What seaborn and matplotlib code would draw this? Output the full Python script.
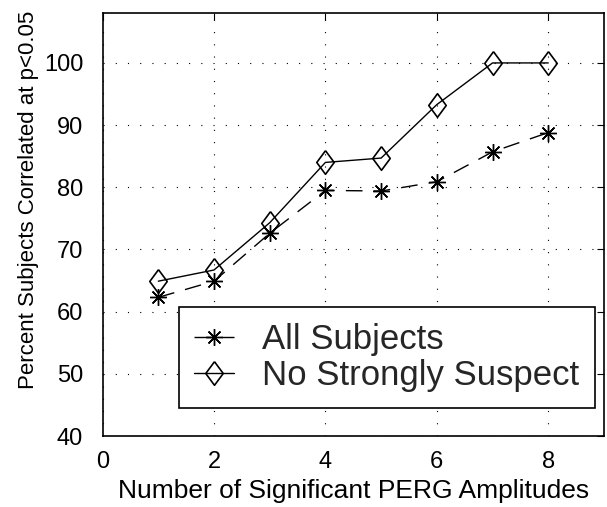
import matplotlib
matplotlib.use("Agg")
import matplotlib.pyplot as plt
import seaborn as sns
import pandas as pd
import numpy as np

n_amplitudes = [1, 2, 3, 4, 5, 6, 7, 8]
all_subjects = [62.3, 64.9, 72.6, 79.5, 79.4, 80.9, 85.7, 88.8]
no_strongly_suspect = [64.9, 66.7, 74.3, 84.0, 84.7, 93.3, 100.0, 100.0]
series_names = ["All Subjects", "No Strongly Suspect"]
x_ticks = [0, 2, 4, 6, 8]
y_ticks = [40, 50, 60, 70, 80, 90, 100]

sns.set_theme(style="white")
plt.rcParams["font.family"] = ["Liberation Sans", "DejaVu Sans"]

df = pd.DataFrame({
    "x": n_amplitudes * 2,
    "y": all_subjects + no_strongly_suspect,
    "series": [series_names[0]] * len(all_subjects) + [series_names[1]] * len(no_strongly_suspect),
})

fig = plt.figure(figsize=(6.07, 5.07), dpi=100)
ax = fig.add_axes([0.169, 0.140, 0.826, 0.834])

diamond = [(0, 1), (0.74, 0), (0, -1), (-0.74, 0), (0, 1)]

sns.lineplot(data=df[df.series == series_names[0]], x="x", y="y", ax=ax,
             color="black", lw=1.0, marker=(8, 2, 0), markersize=12,
             markeredgewidth=1.0, markeredgecolor="black",
             linestyle=(0, (12, 8)), label=series_names[0])
sns.lineplot(data=df[df.series == series_names[1]], x="x", y="y", ax=ax,
             color="black", lw=1.0, marker=diamond, markersize=17,
             markeredgewidth=1.2, markeredgecolor="black", markerfacecolor="none",
             linestyle="-", label=series_names[1])

ax.set_xlim(0, 9)
ax.set_ylim(40, 108)
ax.set_xticks(x_ticks)
ax.set_yticks(y_ticks)
ax.grid(True, color="black", linestyle=(0, (1, 10)), linewidth=0.8)
ax.tick_params(direction="in", length=5, width=0.8, top=True, right=True,
               labelsize=17, colors="black")
ax.tick_params(axis="x", pad=11)
ax.tick_params(axis="y", pad=14)
for s in ax.spines.values():
    s.set_color("black")
    s.set_linewidth(1.2)
    s.set_visible(True)

ax.set_xlabel("Number of Significant PERG Amplitudes", fontsize=19, color="black", labelpad=4)
ax.set_ylabel("Percent Subjects Correlated at p<0.05", fontsize=16, color="black")
ax.yaxis.set_label_coords(-0.127, 0.558)

leg = ax.legend(loc="lower right", bbox_to_anchor=(0.982, 0.066), fontsize=25,
                frameon=True, fancybox=False, edgecolor="black", framealpha=1,
                handlelength=1.15, handletextpad=0.8, borderpad=0.45,
                labelspacing=0.1, borderaxespad=0)
leg.get_frame().set_linewidth(1.2)

fig.savefig("out.png", dpi=100)
